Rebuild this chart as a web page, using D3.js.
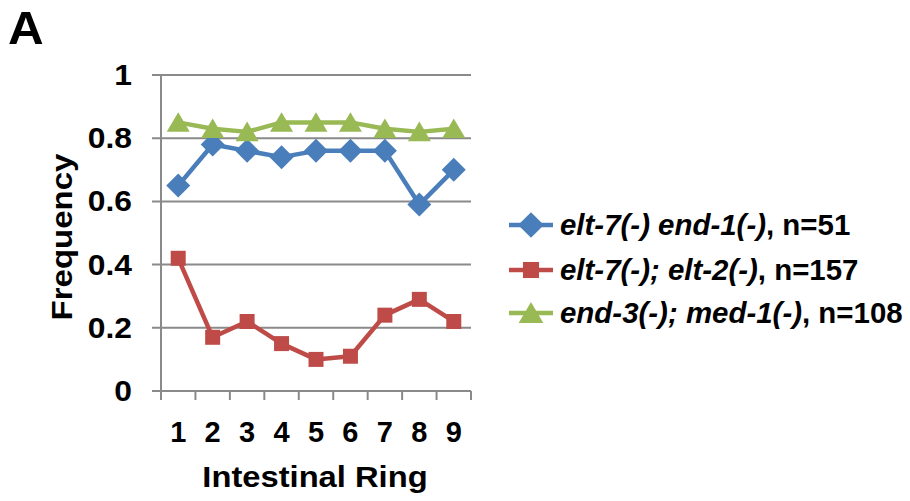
<!DOCTYPE html>
<html><head><meta charset="utf-8">
<script src="https://cdn.jsdelivr.net/npm/d3@7"></script>
<style>body{margin:0;background:#fff}svg{display:block}text{font-family:"Liberation Sans",Arial,sans-serif;font-weight:bold;fill:#000}</style>
</head><body><svg id="c" width="910" height="501"></svg>
<script>
const rings = [1,2,3,4,5,6,7,8,9];
const yTicks = [0,0.2,0.4,0.6,0.8,1];
const yTickLabels = ["0","0.2","0.4","0.6","0.8","1"];
const seriesNames = ["elt-7(-) end-1(-)","elt-7(-); elt-2(-)","end-3(-); med-1(-)"];
const seriesN = ["51","157","108"];
const elt7end1 = [0.65,0.78,0.76,0.74,0.76,0.76,0.76,0.59,0.70];
const elt7elt2 = [0.42,0.17,0.22,0.15,0.10,0.11,0.24,0.29,0.22];
const end3med1 = [0.85,0.83,0.82,0.85,0.85,0.85,0.83,0.82,0.83];
const colors = ["#4A7EBB","#BE4B48","#98B954"];
const series = [elt7end1, elt7elt2, end3med1];

const diamond = {draw(ctx, s){ const r=Math.sqrt(s)/2; ctx.moveTo(0,-r);ctx.lineTo(r,0);ctx.lineTo(0,r);ctx.lineTo(-r,0);ctx.closePath(); }};
const square = {draw(ctx, s){ const r=Math.sqrt(s)/2; ctx.rect(-r,-r,2*r,2*r); }};
const triangle = {draw(ctx, s){ const w=Math.sqrt(s)/2, h=w*0.85; ctx.moveTo(0,-h*1.05);ctx.lineTo(w,h*0.95);ctx.lineTo(-w,h*0.95);ctx.closePath(); }};
const shapes = [diamond, square, triangle];
const sizes = [24*24, 15*15, 23*23];

const svg = d3.select("#c");
const m = {l:161, r:471, t:75, b:391};
const x = d3.scaleBand().domain(rings).range([m.l, m.r]);
const y = d3.scaleLinear().domain([0,1]).range([m.b, m.t]);
const grid = "#8a8a8a";
function widen(sel, f){ sel.each(function(){ const w=this.getComputedTextLength(); d3.select(this).attr("textLength", w*f).attr("lengthAdjust","spacingAndGlyphs"); }); }

svg.append("text").attr("x",8).attr("y",43.5).attr("font-size",47).text("A").call(widen, 1.05);

svg.append("g").selectAll("line").data(yTicks).join("line")
  .attr("x1", m.l-9).attr("x2", m.r).attr("y1", d=>y(d)).attr("y2", d=>y(d))
  .attr("stroke", grid).attr("stroke-width", 2);
svg.append("line").attr("x1",m.l).attr("x2",m.l).attr("y1",m.t).attr("y2",m.b+9).attr("stroke",grid).attr("stroke-width",2);
const xt = d3.range(rings.length+1).map(i => m.l + i*x.step());
svg.append("g").selectAll("line").data(xt).join("line")
  .attr("x1", d=>d).attr("x2", d=>d).attr("y1", m.b).attr("y2", m.b+9)
  .attr("stroke", grid).attr("stroke-width", 2);

svg.append("g").selectAll("text").data(yTicks).join("text")
  .attr("x", 132).attr("y", d=>y(d)+10).attr("text-anchor","end").attr("font-size",30)
  .text((d,i)=>yTickLabels[i]).call(widen, 1.06);
svg.append("g").selectAll("text").data(rings).join("text")
  .attr("x", d=>x(d)+x.bandwidth()/2).attr("y", 442).attr("text-anchor","middle").attr("font-size",29)
  .text(d=>d);

svg.append("text").attr("x",315).attr("y",487).attr("text-anchor","middle").attr("font-size",30).text("Intestinal Ring").call(widen, 1.09);
svg.append("text").attr("transform","translate(72,237) rotate(-90)").attr("text-anchor","middle").attr("font-size",30).text("Frequency").call(widen, 1.1);

const line = d3.line().x((d,i)=>x(rings[i])+x.bandwidth()/2).y(d=>y(d));
series.forEach((s,k)=>{
  svg.append("path").attr("d", line(s)).attr("fill","none").attr("stroke",colors[k]).attr("stroke-width",4.5).attr("stroke-linejoin","round");
  svg.append("g").selectAll("path").data(s).join("path")
    .attr("transform",(d,i)=>`translate(${x(rings[i])+x.bandwidth()/2},${y(d)})`)
    .attr("d", d3.symbol().type(shapes[k]).size(sizes[k])).attr("fill",colors[k]);
});

const ly = [225, 270, 313];
seriesNames.forEach((nm,k)=>{
  const g = svg.append("g").attr("transform",`translate(0,${ly[k]})`);
  g.append("line").attr("x1",509).attr("x2",553).attr("stroke",colors[k]).attr("stroke-width",4.5);
  g.append("path").attr("transform","translate(531,0)").attr("d", d3.symbol().type(shapes[k]).size(sizes[k]*1.15)).attr("fill",colors[k]);
  const t = g.append("text").attr("x",560).attr("y",10).attr("font-size",29);
  t.append("tspan").attr("font-style","italic").text(nm);
  t.append("tspan").text(", n="+seriesN[k]);
  t.call(widen, 1.015);
});
</script></body></html>
